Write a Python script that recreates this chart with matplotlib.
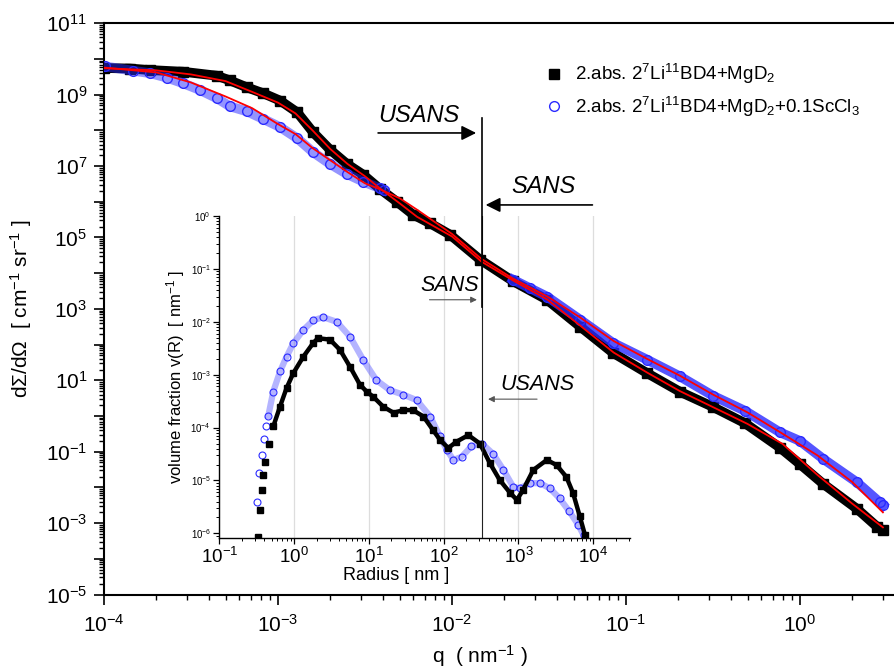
import numpy as np
import matplotlib
matplotlib.use('Agg')
import matplotlib.pyplot as plt
from matplotlib.ticker import LogLocator, FuncFormatter, NullFormatter, LogFormatterSciNotation

plt.rcParams['font.family'] = ['Liberation Sans', 'DejaVu Sans']
plt.rcParams['mathtext.fontset'] = 'custom'
plt.rcParams['mathtext.rm'] = 'Liberation Sans'
plt.rcParams['mathtext.it'] = 'Liberation Sans:italic'
plt.rcParams['mathtext.bf'] = 'Liberation Sans:bold'
plt.rcParams['mathtext.default'] = 'regular'

# sample without ScCl3: USANS + SANS merged curve
q_a = [1.0e-4, 1.41e-4, 1.84e-4, 2.84e-4, 4.46e-4, 5.30e-4, 6.64e-4, 8.20e-4,
       1.03e-3, 1.29e-3, 1.59e-3, 1.99e-3, 2.49e-3, 3.08e-3, 3.85e-3, 4.83e-3,
       5.97e-3, 7.48e-3, 9.75e-3, 1.45e-2, 2.24e-2, 3.52e-2, 5.45e-2, 8.41e-2,
       0.132, 0.204, 0.316, 0.483, 0.767, 1.0, 1.36, 2.13, 2.77, 3.0]
I_a = [5.6e9, 5.4e9, 4.9e9, 4.4e9, 3.4e9, 2.5e9, 1.6e9, 1.1e9,
       6.8e8, 3.2e8, 8.9e7, 2.9e7, 1.15e7, 5.8e6, 2.3e6, 1.0e6,
       4.4e5, 2.5e5, 1.2e5, 2.4e4, 6.0e3, 1.8e3, 320, 59,
       16, 4.8, 1.8, 0.63, 0.13, 0.045, 0.0126, 2.5e-3, 8e-4, 6.3e-4]

# sample with 0.1 ScCl3: USANS part and SANS part
q_b_usans = [1.01e-4, 1.47e-4, 1.84e-4, 2.30e-4, 2.84e-4, 3.56e-4, 4.46e-4, 5.30e-4,
             6.64e-4, 8.20e-4, 1.03e-3, 1.29e-3, 1.59e-3, 1.99e-3, 2.49e-3, 3.08e-3,
             3.85e-3, 4.06e-3]
I_b_usans = [6.2e9, 4.7e9, 4.0e9, 3.0e9, 2.1e9, 1.35e9, 7.9e8, 4.7e8,
             3.4e8, 2.1e8, 1.23e8, 6.0e7, 2.45e7, 1.15e7, 6.0e6, 3.7e6,
             2.4e6, 2.1e6]
q_b_sans = [2.24e-2, 2.81e-2, 3.52e-2, 5.45e-2, 8.41e-2, 0.132, 0.204, 0.316,
            0.483, 0.767, 1.0, 1.36, 2.13, 2.88, 3.0]
I_b_sans = [6.6e3, 3.8e3, 2.2e3, 500, 112, 38, 12.9, 3.7,
            1.4, 0.35, 0.2, 0.063, 0.0138, 3.8e-3, 3.2e-3]

# model fits on a common q grid
q_fit = [1e-4, 2.0e-4, 3.16e-4, 5.0e-4, 7.1e-4, 1e-3, 1.26e-3, 1.58e-3, 2.0e-3,
         2.51e-3, 3.16e-3, 3.98e-3, 5.0e-3, 6.3e-3, 0.01, 0.0148, 0.0224, 0.0355,
         0.055, 0.085, 0.132, 0.204, 0.316, 0.5, 0.794, 1.26, 2.0, 3.0]
I_fit_a = [5.5e9, 4.8e9, 3.7e9, 2.4e9, 1.2e9, 6.0e8, 3.0e8, 1.0e8, 3.0e7,
           1.15e7, 5.2e6, 2.1e6, 9.1e5, 3.8e5, 1.07e5, 2.1e4, 6.3e3, 1.8e3,
           330, 60, 16.6, 5.0, 1.78, 0.60, 0.166, 0.0224, 3.5e-3, 7.6e-4]
I_fit_b = [5.75e9, 4.2e9, 2.2e9, 8.9e8, 4.2e8, 1.5e8, 7.9e7, 3.2e7, 1.45e7,
           6.8e6, 3.3e6, 2.1e6, 1.26e6, 6.0e5, 1.26e5, 2.5e4, 7.1e3, 2.2e3,
           560, 126, 40, 13.5, 4.0, 1.26, 0.32, 0.079, 0.0141, 2.0e-3]

# volume fraction size distributions
R_a = [0.333, 0.350, 0.369, 0.389, 0.408, 0.462, 0.527, 0.649, 0.794, 0.977,
       1.33, 1.81, 2.09, 3.02, 4.11, 5.60, 7.59, 9.33, 11.5, 15.5, 21.4, 28.8,
       38.9, 53.7, 72.4, 89.1, 115, 148, 214, 305, 417, 562, 776, 955, 1150,
       1580, 2400, 3240, 4370, 5370, 6610, 7760]
v_a = [8.5e-7, 2.75e-6, 6.6e-6, 1.26e-5, 2.19e-5, 5.0e-5, 1.05e-4, 2.5e-4, 5.6e-4, 1.07e-3,
       2.19e-3, 4.0e-3, 4.9e-3, 4.6e-3, 2.95e-3, 1.41e-3, 6.5e-4, 4.8e-4, 3.8e-4, 2.5e-4,
       1.9e-4, 2.14e-4, 2.14e-4, 1.62e-4, 8.9e-5, 5.9e-5, 4.1e-5, 5.4e-5, 7.2e-5, 5.0e-5,
       2.1e-5, 1.02e-5, 5.8e-6, 4.3e-6, 6.6e-6, 1.58e-5, 2.45e-5, 1.95e-5, 1.17e-5, 5.8e-6,
       2.1e-6, 9.3e-7]
R_b = [0.322, 0.343, 0.369, 0.398, 0.421, 0.452, 0.527, 0.649, 0.794, 0.975,
       1.33, 1.81, 2.45, 3.72, 5.62, 8.41, 12.6, 19.1, 28.8, 43.7, 66.1, 89.1,
       110, 135, 174, 234, 324, 457, 631, 851, 1050, 1410, 1950, 2630, 3550,
       4790, 6310, 7410]
v_b = [3.98e-6, 1.38e-5, 3.0e-5, 6.0e-5, 1.05e-4, 1.66e-4, 4.8e-4, 1.15e-3, 2.19e-3, 3.9e-3,
       7.0e-3, 1.07e-2, 1.22e-2, 1.0e-2, 5.2e-3, 1.9e-3, 7.9e-4, 5.1e-4, 4.2e-4, 3.3e-4,
       1.62e-4, 6.8e-5, 3.8e-5, 2.45e-5, 2.8e-5, 4.4e-5, 5.0e-5, 3.2e-5, 1.58e-5, 7.6e-6,
       7.1e-6, 8.9e-6, 8.9e-6, 7.1e-6, 4.6e-6, 2.6e-6, 1.45e-6, 9.3e-7]

q_split = 0.0148   # USANS / SANS junction
R_split = 322

label_a = '2.abs. 2$^7$Li$^{11}$BD4+MgD$_2$'
label_b = '2.abs. 2$^7$Li$^{11}$BD4+MgD$_2$+0.1ScCl$_3$'
blue = '#2a2aff'
narrow = ['Liberation Sans Narrow', 'Liberation Sans']

fig = plt.figure(figsize=(8.95, 6.71), dpi=100, facecolor='white')
ax = fig.add_axes([0.1162, 0.114, 0.8838, 0.8513])
ax.patch.set_alpha(0)   # let the inset (drawn underneath) show through
ax.set_zorder(1)

# data bands + markers
ax.plot(q_a, I_a, '-', color='black', lw=7, solid_capstyle='butt', zorder=2)
ax.plot(q_a, I_a, 's', color='black', ms=7, ls='none', label=label_a, zorder=2)
for qq, ii, a in [(q_b_usans, I_b_usans, 0.5), (q_b_sans, I_b_sans, 0.8)]:
    ax.plot(qq, ii, '-', color=blue, lw=7, alpha=a, zorder=3)
    ax.plot(qq, ii, 'o', color=blue, mfc='none', mew=1.0, ms=7, ls='none', zorder=3)
ax.plot([], [], 'o', color=blue, mfc='none', mew=1.0, ms=7, ls='none', label=label_b)
ax.plot(q_fit, I_fit_a, '-', color='red', lw=1.3, zorder=4)
ax.plot(q_fit, I_fit_b, '-', color='red', lw=1.3, zorder=4)

ax.set_xscale('log')
ax.set_yscale('log')
ax.set_xlim(1e-4, 3.52)
ax.set_ylim(1e-5, 1e11)

ax.xaxis.set_major_locator(LogLocator(base=10, numticks=20))
ax.xaxis.set_minor_locator(LogLocator(base=10, subs=np.arange(2, 10), numticks=50))
ax.xaxis.set_minor_formatter(NullFormatter())
ax.yaxis.set_major_locator(LogLocator(base=10, numticks=30))
ax.yaxis.set_minor_locator(LogLocator(base=10, subs=np.arange(2, 10), numticks=60))
ax.yaxis.set_minor_formatter(NullFormatter())
sci = LogFormatterSciNotation()
ax.yaxis.set_major_formatter(FuncFormatter(
    lambda v, p: sci(v, p) if round(np.log10(v)) % 2 == 1 else ''))

ax.tick_params(which='major', direction='out', length=7, width=1.2, labelsize=15, pad=5)
ax.tick_params(which='minor', direction='out', length=3.5, width=1.0)
ax.tick_params(axis='x', which='major', pad=7)
for s in ['left', 'bottom', 'top']:
    ax.spines[s].set_linewidth(1.5)
ax.spines['right'].set_visible(False)

ax.set_xlabel('q  ( nm$^{-1}$ )', fontsize=15)
ax.xaxis.set_label_coords(0.475, -0.085)
ax.set_ylabel('d\u03a3/d\u03a9  [ cm$^{-1}$ sr$^{-1}$ ]', fontsize=15)
ax.yaxis.set_label_coords(-0.088, 0.5)

ax.legend(loc='upper left', bbox_to_anchor=(0.557, 0.932), frameon=False,
          fontsize=13.5, handlelength=1.0, handletextpad=0.6, labelspacing=0.45,
          borderpad=0, borderaxespad=0)

# junction between the two instruments
ax.plot([q_split, q_split], [2.2e8, 1.1e3], color='black', lw=1.2, zorder=6)
ax.text(0.398, 0.839, 'USANS', transform=ax.transAxes, fontsize=17, style='italic',
        ha='center', va='center')
ax.annotate('', xy=(0.474, 0.808), xytext=(0.343, 0.808), xycoords='axes fraction',
            arrowprops=dict(arrowstyle='-|>', color='black', lw=1.2, mutation_scale=22))
ax.text(0.556, 0.715, 'SANS', transform=ax.transAxes, fontsize=17, style='italic',
        ha='center', va='center')
ax.annotate('', xy=(0.479, 0.682), xytext=(0.621, 0.682), xycoords='axes fraction',
            arrowprops=dict(arrowstyle='-|>', color='black', lw=1.2, mutation_scale=22))

# inset: size distributions
axi = fig.add_axes([0.245, 0.1987, 0.4589, 0.4794])
axi.set_zorder(0)
axi.patch.set_alpha(0)
axi.plot(R_a[6:], v_a[6:], '-', color='black', lw=3.2, zorder=3)
axi.plot(R_a, v_a, 's', color='black', ms=4.2, ls='none', zorder=3)
axi.plot(R_b[5:], v_b[5:], '-', color=blue, lw=4.5, alpha=0.35, zorder=2)
axi.plot(R_b, v_b, 'o', color=blue, mfc='none', mew=0.8, ms=5, ls='none', zorder=2)
axi.axvline(R_split, color='#222222', lw=0.8, zorder=4)

axi.set_xscale('log')
axi.set_yscale('log')
axi.set_xlim(0.1, 3.1e4)
axi.set_ylim(8.3e-7, 1.0)
axi.xaxis.set_major_locator(LogLocator(base=10, numticks=12))
axi.xaxis.set_minor_locator(LogLocator(base=10, subs=np.arange(2, 10), numticks=60))
axi.xaxis.set_minor_formatter(NullFormatter())
axi.yaxis.set_major_locator(LogLocator(base=10, numticks=12))
axi.yaxis.set_minor_locator(LogLocator(base=10, subs=np.arange(2, 10), numticks=60))
axi.yaxis.set_minor_formatter(NullFormatter())
axi.grid(True, axis='x', which='major', color='#dddddd', lw=0.9, zorder=0)
axi.set_axisbelow(True)
for s in ['top', 'right']:
    axi.spines[s].set_visible(False)
for s in ['left', 'bottom']:
    axi.spines[s].set_linewidth(1.0)
axi.tick_params(which='major', direction='out', length=4, width=0.9)
axi.tick_params(which='minor', direction='out', length=2.5, width=0.7)
axi.tick_params(axis='x', labelsize=13.5, pad=3, labelfontfamily=narrow)
axi.tick_params(axis='y', labelsize=7, pad=2)

axi.set_xlabel('Radius [ nm ]', fontsize=13, family=narrow)
axi.xaxis.set_label_coords(0.43, -0.09)
axi.set_ylabel('volume fraction v(R)  [ nm$^{-1}$ ]', fontsize=12)
axi.yaxis.set_label_coords(-0.079, 0.5)

ax.text(0.437, 0.541, 'SANS', transform=ax.transAxes, fontsize=15.5, style='italic',
        ha='center', va='center')
ax.annotate('', xy=(0.475, 0.516), xytext=(0.408, 0.516), xycoords='axes fraction',
            arrowprops=dict(arrowstyle='-|>', color='#555555', lw=0.8, mutation_scale=9))
ax.text(0.548, 0.367, 'USANS', transform=ax.transAxes, fontsize=15.5, style='italic',
        ha='center', va='center')
ax.annotate('', xy=(0.482, 0.342), xytext=(0.551, 0.342), xycoords='axes fraction',
            arrowprops=dict(arrowstyle='-|>', color='#555555', lw=0.8, mutation_scale=9))

fig.savefig('out.png', dpi=100, facecolor='white')
